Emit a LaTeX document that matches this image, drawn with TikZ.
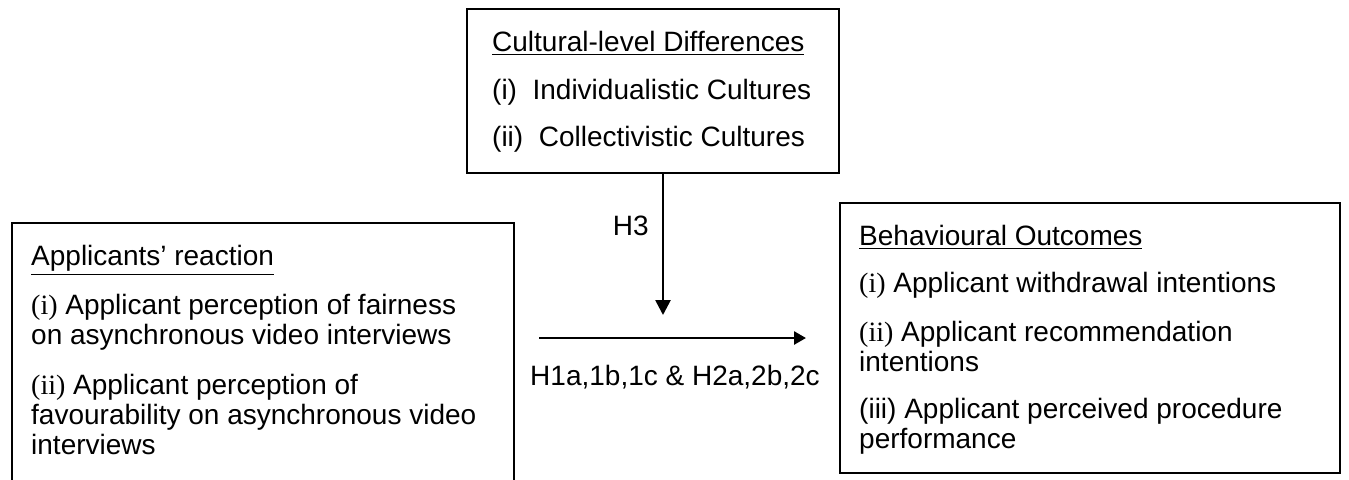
\documentclass[tikz,border=0pt]{standalone}
\usepackage{fontspec}
\setmainfont{Liberation Sans}
\newfontfamily\timesfont{Liberation Serif}
\usetikzlibrary{arrows.meta,positioning}

\begin{document}
\begin{tikzpicture}[x=0.5pt,y=-0.5pt,
    box/.style={draw,line width=1.2pt,inner sep=0pt},
    boxtext/.style={align=left,inner sep=0pt,font=\fontsize{14}{15}\selectfont},
    tag/.style={inner sep=0pt,font=\fontsize{14}{15}\selectfont},
    link/.style={line width=1.3pt,-{Triangle[length=6pt,width=6.5pt]}}]
   \useasboundingbox (0,0) rectangle (1349,479);
   \clip (0,0) rectangle (1349,479);

   % the three boxes
   \node[box,minimum width=186pt,minimum height=82pt] (culture) at (653,91) {};
   \node[box,minimum width=251pt,minimum height=148.5pt] (reaction) at (263,371.5) {};
   \node[box,minimum width=250pt,minimum height=135pt] (outcome) at (1090,338) {};

   \node[boxtext,below right=11.5pt and 13pt of culture.north west] (culturetext)
      {\underline{Cultural-level Differences}\\[9pt]
       (i)\ \ Individualistic Cultures\\[8.5pt]
       (ii)\ \ Collectivistic Cultures};

   \node[boxtext,below right=11.5pt and 10pt of reaction.north west] (reactiontext)
      {\underline{Applicants’ reaction}\\[8.5pt]
       {\timesfont(i)} Applicant perception of fairness\\
       on asynchronous video interviews\\[10pt]
       {\timesfont(ii)} Applicant perception of\\
       favourability on asynchronous video\\
       interviews};

   \node[boxtext,below right=11.5pt and 10pt of outcome.north west] (outcometext)
      {\underline{Behavioural Outcomes}\\[8.5pt]
       {\timesfont(i)} Applicant withdrawal intentions\\[9.5pt]
       {\timesfont(ii)} Applicant recommendation\\
       intentions\\[8.5pt]
       (iii) Applicant perceived procedure\\
       performance};

   % moderator and main path
   \coordinate (modend) at (663,315);
   \draw[line width=1.3pt,-{Triangle[length=7.5pt,width=7.5pt]}] (culture.south -| modend) -- (modend);
   \node[tag,anchor=base east] (h3) at (649,235) {H3};

   \coordinate (linkstart) at (539,338);
   \coordinate (linkend) at (806,338);
   \draw[link] (linkstart) -- (linkend);
   \node[tag,anchor=base] (hyp) at (675,385) {H1a,1b,1c \& H2a,2b,2c};
\end{tikzpicture}
\end{document}
